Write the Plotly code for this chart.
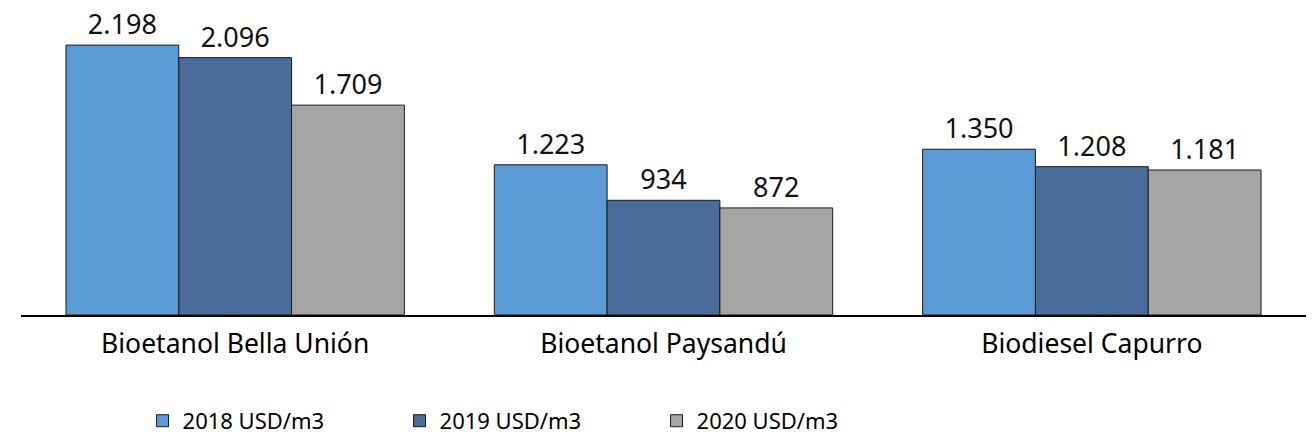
import plotly.graph_objects as go

plantas = ["Bioetanol Bella Unión", "Bioetanol Paysandú", "Biodiesel Capurro"]
series = ["2018 USD/m3", "2019 USD/m3", "2020 USD/m3"]
valores_2018 = [2198, 1223, 1350]
valores_2019 = [2096, 934, 1208]
valores_2020 = [1709, 872, 1181]
colores = ["#5B9BD5", "#4A6C9B", "#A5A5A5"]

fig = go.Figure()
for nombre, vals, col in zip(series, [valores_2018, valores_2019, valores_2020], colores):
    fig.add_trace(go.Bar(
        x=plantas, y=vals, name=nombre,
        marker=dict(color=col, line=dict(color="#1a1a1a", width=1)),
        texttemplate="%{y:,}", textposition="outside",
        textfont=dict(size=27, color="#111111"),
        cliponaxis=False,
    ))

# la página agrega 8px de margen al body, se compensa aquí
fig.update_layout(
    width=1315, height=439,
    margin=dict(l=13, r=17, t=0, b=132, autoexpand=False),
    barmode="group", bargap=0.21, bargroupgap=0,
    separators=",.",
    font=dict(family="Noto Sans", color="#000000"),
    plot_bgcolor="white", paper_bgcolor="white",
    xaxis=dict(showline=True, linecolor="#000000", linewidth=1.5,
               tickfont=dict(size=26.5), ticks="", showgrid=False, automargin=False,
               ticklabelstandoff=4),
    yaxis=dict(visible=False, range=[0, 2500]),
    legend=dict(orientation="h", x=0.0946, xanchor="left", y=-0.345, yanchor="middle",
                font=dict(size=22), entrywidth=212, entrywidthmode="pixels",
                traceorder="normal"),
)

fig.write_html("out.html")
